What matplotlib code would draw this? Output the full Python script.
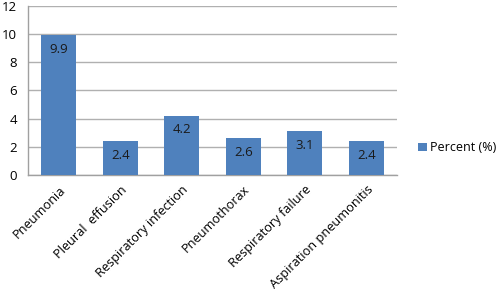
import matplotlib
matplotlib.use("Agg")
import matplotlib.pyplot as plt

categories = ["Pneumonia", "Pleural  effusion", "Respiratory infection",
              "Pneumothorax", "Respiratory failure", "Aspiration pneumonitis"]
values = [9.9, 2.4, 4.2, 2.6, 3.1, 2.4]
value_labels = ["9.9", "2.4", "4.2", "2.6", "3.1", "2.4"]
yticks = [0, 2, 4, 6, 8, 10, 12]
series_name = "Percent (%)"

plt.rcParams['font.family'] = ['Open Sans', 'DejaVu Sans']

fig = plt.figure(figsize=(5.0, 2.93), dpi=100)
ax = fig.add_axes([0.056, 0.403, 0.738, 0.577])

bar_color = "#4F81BD"
x = list(range(len(categories)))
bars = ax.bar(x, values, width=0.57, color=bar_color, label=series_name, zorder=3)

for xi, v, lab in zip(x, values, value_labels):
    ax.text(xi, v - 0.55, lab, ha="center", va="top", fontsize=9.5, color="#1a1a1a", zorder=4)

ax.set_xlim(-0.5, len(categories) - 0.5)
ax.set_ylim(0, 12)
ax.set_yticks(yticks)
ax.set_yticklabels([str(t) for t in yticks])
ax.yaxis.grid(True, color="#B0B0B0", linewidth=1.0, zorder=0)
ax.set_axisbelow(True)

for s in ["top", "right"]:
    ax.spines[s].set_visible(False)
for s in ["left", "bottom"]:
    ax.spines[s].set_color("#A0A0A0")
    ax.spines[s].set_linewidth(1.0)

ax.tick_params(axis="y", length=0, pad=8, labelsize=9.5)
ax.tick_params(axis="x", length=0, pad=6)
ax.set_xticks(x)
ax.set_xticklabels(categories, rotation=45, ha="right", rotation_mode="anchor", fontsize=9.2)

leg = fig.legend(handles=[bars], labels=[series_name], loc="center left",
                 bbox_to_anchor=(0.836, 0.495), frameon=False, fontsize=9,
                 handlelength=0.7, handleheight=0.7, handletextpad=0.3,
                 borderpad=0, borderaxespad=0)

fig.savefig("out.png", dpi=100)
